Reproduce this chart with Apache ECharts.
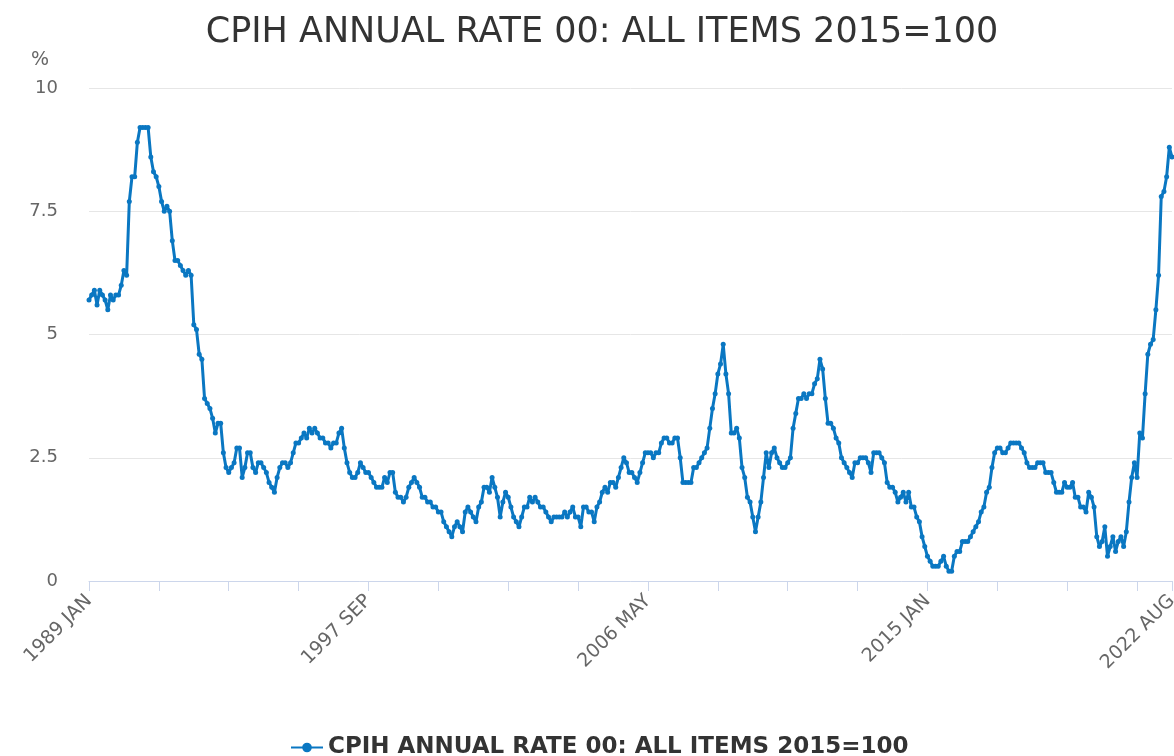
<!DOCTYPE html>
<html><head><meta charset="utf-8">
<script src="https://cdn.jsdelivr.net/npm/echarts@6/dist/echarts.min.js"></script>
<style>html,body{margin:0;padding:0;background:#fff}#c{width:1174px;height:756px}</style>
</head><body><div id="c"></div>
<script>
const monthNames = ['JAN','FEB','MAR','APR','MAY','JUN','JUL','AUG','SEP','OCT','NOV','DEC'];
const startYear = 1989;
const pointCount = 404;
const categories = [];
for (let i = 0; i < pointCount; i++) {
  categories.push((startYear + Math.floor(i / 12)) + ' ' + monthNames[i % 12]);
}
const titleText = 'CPIH ANNUAL RATE 00: ALL ITEMS 2015=100';
const seriesName = 'CPIH ANNUAL RATE 00: ALL ITEMS 2015=100';
const unitLabel = '%';
const cpihRate = [
  5.7,5.8,5.9,5.6,5.9,5.8,5.7,5.5,5.8,5.7,5.8,5.8, // 1989
  6.0,6.3,6.2,7.7,8.2,8.2,8.9,9.2,9.2,9.2,9.2,8.6, // 1990
  8.3,8.2,8.0,7.7,7.5,7.6,7.5,6.9,6.5,6.5,6.4,6.3, // 1991
  6.2,6.3,6.2,5.2,5.1,4.6,4.5,3.7,3.6,3.5,3.3,3.0, // 1992
  3.2,3.2,2.6,2.3,2.2,2.3,2.4,2.7,2.7,2.1,2.3,2.6, // 1993
  2.6,2.3,2.2,2.4,2.4,2.3,2.2,2.0,1.9,1.8,2.1,2.3, // 1994
  2.4,2.4,2.3,2.4,2.6,2.8,2.8,2.9,3.0,2.9,3.1,3.0, // 1995
  3.1,3.0,2.9,2.9,2.8,2.8,2.7,2.8,2.8,3.0,3.1,2.7, // 1996
  2.4,2.2,2.1,2.1,2.2,2.4,2.3,2.2,2.2,2.1,2.0,1.9, // 1997
  1.9,1.9,2.1,2.0,2.2,2.2,1.8,1.7,1.7,1.6,1.7,1.9, // 1998
  2.0,2.1,2.0,1.9,1.7,1.7,1.6,1.6,1.5,1.5,1.4,1.4, // 1999
  1.2,1.1,1.0,0.9,1.1,1.2,1.1,1.0,1.4,1.5,1.4,1.3, // 2000
  1.2,1.5,1.6,1.9,1.9,1.8,2.1,1.9,1.7,1.3,1.6,1.8, // 2001
  1.7,1.5,1.3,1.2,1.1,1.3,1.5,1.5,1.7,1.6,1.7,1.6, // 2002
  1.5,1.5,1.4,1.3,1.2,1.3,1.3,1.3,1.3,1.4,1.3,1.4, // 2003
  1.5,1.3,1.3,1.1,1.5,1.5,1.4,1.4,1.2,1.5,1.6,1.8, // 2004
  1.9,1.8,2.0,2.0,1.9,2.1,2.3,2.5,2.4,2.2,2.2,2.1, // 2005
  2.0,2.2,2.4,2.6,2.6,2.6,2.5,2.6,2.6,2.8,2.9,2.9, // 2006
  2.8,2.8,2.9,2.9,2.5,2.0,2.0,2.0,2.0,2.3,2.3,2.4, // 2007
  2.5,2.6,2.7,3.1,3.5,3.8,4.2,4.4,4.8,4.2,3.8,3.0, // 2008
  3.0,3.1,2.9,2.3,2.1,1.7,1.6,1.3,1.0,1.3,1.6,2.1, // 2009
  2.6,2.3,2.6,2.7,2.5,2.4,2.3,2.3,2.4,2.5,3.1,3.4, // 2010
  3.7,3.7,3.8,3.7,3.8,3.8,4.0,4.1,4.5,4.3,3.7,3.2, // 2011
  3.2,3.1,2.9,2.8,2.5,2.4,2.3,2.2,2.1,2.4,2.4,2.5, // 2012
  2.5,2.5,2.4,2.2,2.6,2.6,2.6,2.5,2.4,2.0,1.9,1.9, // 2013
  1.8,1.6,1.7,1.8,1.6,1.8,1.5,1.5,1.3,1.2,0.9,0.7, // 2014
  0.5,0.4,0.3,0.3,0.3,0.4,0.5,0.3,0.2,0.2,0.5,0.6, // 2015
  0.6,0.8,0.8,0.8,0.9,1.0,1.1,1.2,1.4,1.5,1.8,1.9, // 2016
  2.3,2.6,2.7,2.7,2.6,2.6,2.7,2.8,2.8,2.8,2.8,2.7, // 2017
  2.6,2.4,2.3,2.3,2.3,2.4,2.4,2.4,2.2,2.2,2.2,2.0, // 2018
  1.8,1.8,1.8,2.0,1.9,1.9,2.0,1.7,1.7,1.5,1.5,1.4, // 2019
  1.8,1.7,1.5,0.9,0.7,0.8,1.1,0.5,0.7,0.9,0.6,0.8, // 2020
  0.9,0.7,1.0,1.6,2.1,2.4,2.1,3.0,2.9,3.8,4.6,4.8, // 2021
  4.9,5.5,6.2,7.8,7.9,8.2,8.8,8.6                  // 2022
];
const yMin = 0, yMax = 10, yStep = 2.5;
const tickEvery = 26, labelEvery = 104;

const chart = echarts.init(document.getElementById('c'));
const FONT = 'DejaVu Sans';
chart.setOption({
  animation: false,
  backgroundColor: '#ffffff',
  graphic: [{
    type: 'text', x: 602, y: 33,
    style: { text: titleText, fontFamily: FONT, fontSize: 35, fill: '#333333', align: 'center', verticalAlign: 'middle' }
  }, {
    type: 'text', x: 40, y: 60,
    style: { text: unitLabel, fontFamily: FONT, fontSize: 19, fill: '#666666', align: 'center', verticalAlign: 'middle' }
  }],
  legend: {
    top: 731, left: 285,
    itemWidth: 32, itemHeight: 12, itemGap: 10,
    textStyle: { fontFamily: FONT, fontSize: 23, fontWeight: 'bold', color: '#333333' },
    data: [seriesName]
  },
  grid: { left: 89, right: 2, top: 88, bottom: 175, containLabel: false, outerBoundsMode: 'none' },
  xAxis: {
    type: 'category', data: categories, boundaryGap: false,
    axisLine: { lineStyle: { color: '#ccd6eb', width: 1 } },
    axisTick: { show: true, length: 10, interval: (i) => i % tickEvery === 0 || i === pointCount - 1, lineStyle: { color: '#ccd6eb' } },
    axisLabel: {
      interval: (i) => i % labelEvery === 0 || i === pointCount - 1,
      rotate: 45, margin: 17, color: '#666666', fontFamily: FONT, fontSize: 19
    },
    splitLine: { show: false }
  },
  yAxis: {
    type: 'value', min: yMin, max: yMax, interval: yStep,
    axisLine: { show: false }, axisTick: { show: false },
    axisLabel: { color: '#666666', fontFamily: FONT, fontSize: 18, margin: 31 },
    splitLine: { lineStyle: { color: '#e6e6e6', width: 1 } }
  },
  series: [{
    name: seriesName, type: 'line', data: cpihRate,
    showAllSymbol: true, symbol: 'circle', symbolSize: 5,
    lineStyle: { color: '#0a77c2', width: 3 },
    itemStyle: { color: '#0a77c2' },
    z: 3
  }]
});
</script></body></html>
